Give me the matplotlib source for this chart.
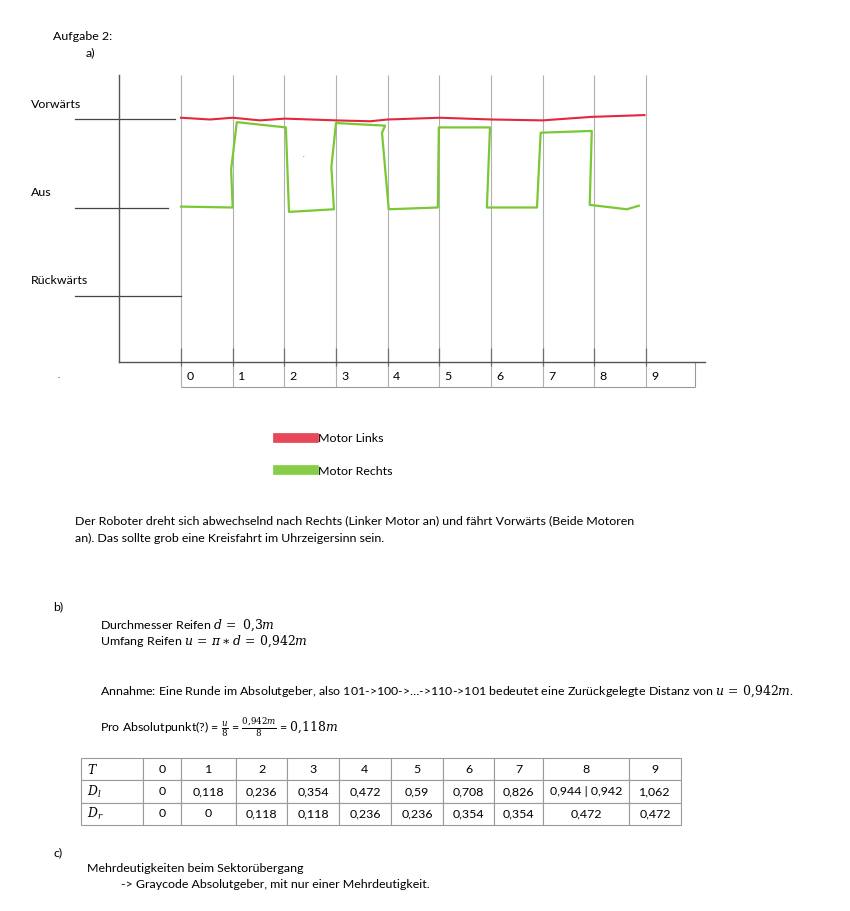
import matplotlib.pyplot as plt
from matplotlib.lines import Line2D

plt.rcParams['font.family'] = ['Lato', 'DejaVu Sans']
plt.rcParams['mathtext.fontset'] = 'dejavuserif'

W, H = 850, 911
FS = 8.9

# Aufgabe 2 a) - Zeitpunkte und Motorstufen
zeit = list(range(10))
stufen = ['Vorwärts', 'Aus', 'Rückwärts']
stufen_wert = [1, 0, -1]

# Motor Links (rot) - von Hand gezeichnet, immer Vorwärts
links_t = [0, 0.56, 1.0, 1.53, 2.01, 3.0, 3.66, 4.0, 5.01, 6.02, 7.0, 7.95, 8.97]
links_v = [1.02, 1.0, 1.02, 0.99, 1.01, 0.99, 0.98, 1.0, 1.02, 1.0, 0.99, 1.03, 1.05]

# Motor Rechts (gruen) - wechselt zwischen Aus und Vorwärts
rechts_t = [0, 1.0, 0.97, 1.08, 2.03, 2.09, 2.96, 2.91, 3.0, 3.95, 3.89, 4.02,
            4.97, 4.99, 5.98, 5.92, 6.89, 6.96, 7.95, 7.91, 8.63, 8.86]
rechts_v = [0.01, 0.0, 0.43, 0.97, 0.91, -0.05, -0.02, 0.46, 0.96, 0.93, 0.85, -0.02,
            0.0, 0.91, 0.91, 0.0, 0.0, 0.85, 0.87, 0.03, -0.02, 0.02]

# b) Tabelle
tab_kopf = ['$T$', '0', '1', '2', '3', '4', '5', '6', '7', '8', '9']
tab_dl = ['$D_l$', '0', '0,118', '0,236', '0,354', '0,472', '0,59', '0,708', '0,826',
          '0,944 | 0,942', '1,062']
tab_dr = ['$D_r$', '0', '0', '0,118', '0,118', '0,236', '0,236', '0,354', '0,354',
          '0,472', '0,472']

fig = plt.figure(figsize=(W / 100, H / 100), dpi=100)


def txt(x, y, s, **kw):
    kw.setdefault('fontsize', FS)
    fig.text(x / W, 1 - y / H, s, va='center', ha='left', **kw)


# --- Diagramm ---
T0, PT = 181, 51.67   # pixel of t=0, pixels per step
Y0, PY = 207.5, 88    # pixel of "Aus", pixels per level
ax = fig.add_axes([119 / W, 1 - 362 / H, (705 - 119) / W, (362 - 75) / H])
ax.set_xlim((119 - T0) / PT, (705 - T0) / PT)
ax.set_ylim((Y0 - 362) / PY, (Y0 - 75) / PY)
for s in ['top', 'right']:
    ax.spines[s].set_visible(False)
for s in ['left', 'bottom']:
    ax.spines[s].set_color('#555555')
    ax.spines[s].set_linewidth(1.0)
ax.set_xticks([])
ax.set_yticks([])

y_bot = ax.get_ylim()[0]
y_tab = (Y0 - 387) / PY
x_tab_end = (695 - T0) / PT

# graue Zeitlinien, laufen bis durch die Zeitleiste
ax.vlines(zeit, y_tab, ax.get_ylim()[1], color='#b0b0b0', lw=0.8, clip_on=False)
ax.vlines(zeit, (Y0 - 348) / PY, (Y0 - 366) / PY, color='#707070', lw=0.9, clip_on=False)
# Zeitleiste
ax.hlines(y_tab, 0, x_tab_end, color='#9a9a9a', lw=0.8, clip_on=False)
ax.vlines(x_tab_end, y_bot, y_tab, color='#9a9a9a', lw=0.8, clip_on=False)
for t in zeit:
    ax.text(t + 0.1, (Y0 - 376) / PY, str(t), fontsize=FS, va='center', ha='left')

# Stufen
stufen_ende = [-0.12, -0.25, 0.0]
for name, v, xe in zip(stufen, stufen_wert, stufen_ende):
    ax.plot([-2.05, xe], [v, v], color='#444444', lw=0.9, clip_on=False)
    ax.text(-2.9, v + 0.17, name, fontsize=FS, va='center', ha='left')

ax.plot(links_t, links_v, color='#e2283c', lw=1.5, solid_joinstyle='round')
ax.plot(rechts_t, rechts_v, color='#7ac833', lw=1.6, solid_joinstyle='round')
ax.text(2.35, 0.57, '.', fontsize=5, color='#555555')

# Legende
handles = [Line2D([], [], color='#e2283c', lw=7, alpha=0.85),
           Line2D([], [], color='#7ac833', lw=7, alpha=0.9)]
fig.legend(handles, ['Motor Links', 'Motor Rechts'], loc='upper left',
           bbox_to_anchor=(272 / W, 1 - 427 / H), frameon=False, fontsize=FS,
           handlelength=2.9, handletextpad=0.3, labelspacing=1.75, borderpad=0)

# --- Texte ---
txt(53, 36, 'Aufgabe 2:')
txt(86, 53, 'a)')
txt(58, 376, '.', fontsize=6)
txt(75, 521, 'Der Roboter dreht sich abwechselnd nach Rechts (Linker Motor an) und fährt '
             'Vorwärts (Beide Motoren')
txt(75, 538, 'an). Das sollte grob eine Kreisfahrt im Uhrzeigersinn sein.')

txt(53, 607, 'b)')
txt(100, 625, r'Durchmesser Reifen $d\,=\ 0{,}3m$')
txt(100, 641, r'Umfang Reifen $u\,=\,\pi \ast d\,=\,0{,}942m$')
txt(100, 691, r'Annahme: Eine Runde im Absolutgeber, also 101->100->…->110->101 bedeutet '
              r'eine Zurückgelegte Distanz von $u\,=\,0{,}942m$.')
txt(100, 727, r'Pro Absolutpunkt(?) = $\frac{u}{8}$ = $\frac{0{,}942m}{8}$ = $0{,}118m$')

# Tabelle
kanten = [81, 143, 181, 236, 287, 339, 391, 443, 494, 543, 629, 681]
breiten = [(b - a) / (kanten[-1] - kanten[0]) for a, b in zip(kanten[:-1], kanten[1:])]
tax = fig.add_axes([81 / W, 1 - 825 / H, 600 / W, 67 / H])
tax.axis('off')
tbl = tax.table(cellText=[tab_kopf, tab_dl, tab_dr], colWidths=breiten,
                bbox=[0, 0, 1, 1], cellLoc='center')
tbl.auto_set_font_size(False)
tbl.set_fontsize(FS)
for (r, c), cell in tbl.get_celld().items():
    cell.set_edgecolor('#9a9a9a')
    cell.set_linewidth(0.8)
    if c == 0:
        cell.get_text().set_ha('left')

txt(53, 853, 'c)')
txt(87, 869, 'Mehrdeutigkeiten beim Sektorübergang')
txt(121, 885, '-> Graycode Absolutgeber, mit nur einer Mehrdeutigkeit.')

fig.savefig('out.png', dpi=100)
